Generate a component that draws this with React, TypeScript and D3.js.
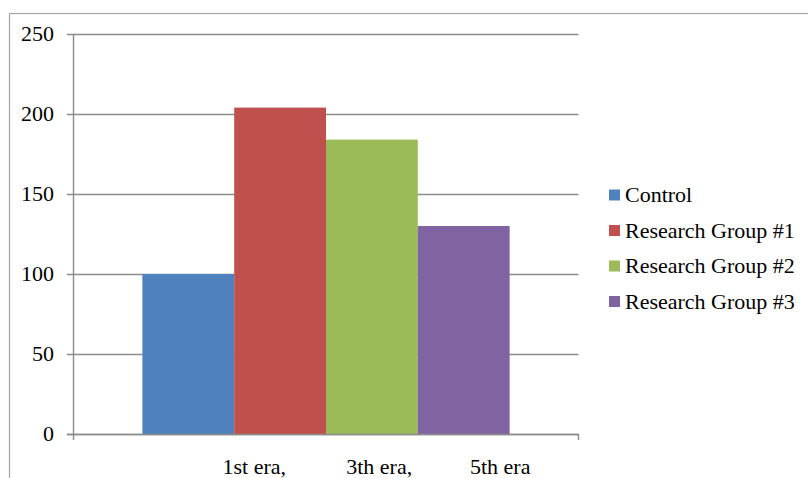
import React from "react";
import * as d3 from "d3";

const seriesNames = ["Control", "Research Group #1", "Research Group #2", "Research Group #3"];
const seriesValues = [100, 204, 184, 130];
const seriesColors = ["#4F81BD", "#C0504D", "#9BBB59", "#8064A2"];
const yTicks = [0, 50, 100, 150, 200, 250];
const xLabels = ["1st era,", "3th era,", "5th era"];

const W = 808;
const H = 478;
const plot = { left: 73.5, right: 578.5, top: 34, bottom: 434 };
const FONT = '"Liberation Serif", "Times New Roman", "DejaVu Serif", serif';
const FS = 22;
const GAP = 1.5;

export default function App() {
  const y = d3.scaleLinear().domain([0, 250]).range([plot.bottom, plot.top]);
  const plotW = plot.right - plot.left;
  const bw = plotW / (seriesNames.length + GAP);
  const x = d3
    .scaleBand<string>()
    .domain(seriesNames)
    .range([plot.left + (GAP * bw) / 2, plot.right - (GAP * bw) / 2])
    .padding(0);
  // category label starts as fractions of plot width
  const labelStarts = [0.295, 0.54, 0.785];
  const gridColor = "#8c8c8c";
  const txt = { fontFamily: FONT, fontSize: FS, fill: "#000" } as React.CSSProperties;

  return (
    <svg
      width={W}
      height={H}
      style={{ position: "fixed", left: 0, top: 0, background: "#fff", fontFamily: FONT }}
    >
      <rect x={9.5} y={13.5} width={W} height={H} fill="#fff" stroke="#a6a6a6" strokeWidth={1.2} />
      {yTicks.map((t) => (
        <g key={t}>
          <line
            x1={plot.left - 6.5}
            x2={plot.right}
            y1={Math.round(y(t)) + 0.5}
            y2={Math.round(y(t)) + 0.5}
            stroke={gridColor}
            strokeWidth={1.4}
          />
          <text x={54} y={y(t)} dy="0.34em" textAnchor="end" style={txt}>
            {t}
          </text>
        </g>
      ))}
      {seriesNames.map((s, i) => (
        <rect
          key={s}
          x={x(s)}
          y={y(seriesValues[i])}
          width={x.bandwidth()}
          height={y(0) - y(seriesValues[i])}
          fill={seriesColors[i]}
        />
      ))}
      <line x1={plot.left} x2={plot.left} y1={plot.top} y2={plot.bottom + 6} stroke={gridColor} strokeWidth={1.4} />
      <line x1={plot.left - 6.5} x2={plot.right} y1={plot.bottom + 0.5} y2={plot.bottom + 0.5} stroke={gridColor} strokeWidth={1.4} />
      <line x1={plot.right} x2={plot.right} y1={plot.bottom} y2={plot.bottom + 6} stroke={gridColor} strokeWidth={1.4} />
      {xLabels.map((l, i) => (
        <text key={l} x={plot.left + labelStarts[i] * plotW} y={467} dy="0.34em" style={txt}>
          {l}
        </text>
      ))}
      {seriesNames.map((s, i) => {
        const cy = 195 + i * 35.5;
        return (
          <g key={s}>
            <rect x={609} y={cy - 5.5} width={11} height={11} fill={seriesColors[i]} />
            <text x={625} y={cy} dy="0.34em" style={txt}>
              {s}
            </text>
          </g>
        );
      })}
    </svg>
  );
}
